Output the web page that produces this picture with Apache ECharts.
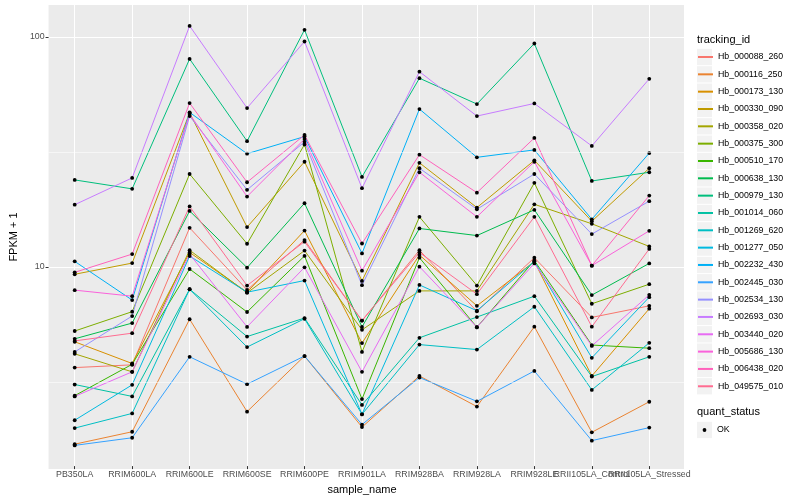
<!DOCTYPE html>
<html><head><meta charset="utf-8">
<script src="https://cdn.jsdelivr.net/npm/echarts@6.0.0/dist/echarts.min.js"></script>
<style>html,body{margin:0;padding:0;background:#fff}#c{width:800px;height:500px}</style>
</head><body><div id="c"></div>
<script>
const categories = ['PB350LA','RRIM600LA','RRIM600LE','RRIM600SE','RRIM600PE','RRIM901LA','RRIM928BA','RRIM928LA','RRIM928LE','RRII105LA_Control','RRII105LA_Stressed'];

const Hb_000088_260 = [3.57, 3.67, 14.6, 7.81, 12.9, 5.73, 11.65, 6.29, 10.8, 5.92, 6.65];
const Hb_000116_250 = [1.65, 1.87, 5.81, 2.29, 4.01, 1.96, 3.28, 2.41, 5.39, 1.86, 2.53];
const Hb_000173_130 = [4.63, 3.72, 11.39, 7.63, 14.2, 4.57, 11.1, 6.65, 10.4, 3.28, 6.46];
const Hb_000330_090 = [9.14, 10.23, 46.5, 14.7, 28.4, 8.55, 28.1, 17.9, 28.8, 15.6, 26.6];
const Hb_000358_020 = [4.10, 3.42, 11.65, 7.58, 11.6, 5.22, 7.73, 7.73, 18.5, 15.2, 12.1];
const Hb_000375_300 = [5.16, 6.27, 25.1, 12.43, 33.8, 4.18, 16.3, 8.16, 22.96, 6.79, 8.27];
const Hb_000510_170 = [2.69, 3.69, 9.64, 6.25, 11.0, 2.60, 10.8, 5.36, 10.5, 4.48, 4.34];
const Hb_000638_130 = [4.77, 5.59, 17.3, 9.77, 18.7, 5.38, 14.5, 13.5, 17.5, 7.41, 10.2];
const Hb_000979_130 = [23.65, 21.61, 80.0, 34.96, 107.3, 24.38, 65.9, 50.8, 93.5, 23.4, 25.55];
const Hb_001014_060 = [3.01, 2.67, 7.86, 4.88, 5.88, 2.45, 4.82, 5.94, 7.33, 3.26, 3.98];
const Hb_001269_620 = [1.94, 2.25, 7.86, 4.39, 5.84, 2.23, 4.50, 4.28, 6.59, 2.85, 4.58];
const Hb_001277_050 = [2.10, 3.00, 10.98, 7.63, 8.58, 2.23, 8.21, 6.33, 10.4, 3.94, 7.26];
const Hb_002232_430 = [10.41, 7.05, 46.7, 30.8, 36.6, 11.28, 48.3, 29.7, 32.0, 15.9, 31.0];
const Hb_002445_030 = [1.63, 1.76, 3.98, 3.02, 4.01, 2.01, 3.23, 2.54, 3.45, 1.71, 1.95];
const Hb_002534_130 = [4.18, 6.00, 45.0, 21.4, 34.7, 8.19, 26.6, 17.6, 25.1, 13.7, 19.1];
const Hb_002693_030 = [18.42, 24.13, 111.6, 48.8, 95.4, 21.76, 70.4, 45.0, 51.1, 33.3, 65.5];
const Hb_003440_020 = [2.67, 3.42, 11.2, 5.38, 9.80, 3.42, 9.87, 5.36, 10.2, 4.44, 7.43];
const Hb_005686_130 = [7.79, 7.33, 45.9, 20.0, 35.7, 9.48, 25.55, 16.3, 28.4, 9.97, 14.16];
const Hb_006438_020 = [9.32, 11.2, 51.3, 23.1, 37.2, 12.46, 30.5, 20.8, 36.1, 9.97, 20.2];
const Hb_049575_010 = [4.67, 5.05, 18.1, 8.16, 12.7, 5.73, 11.39, 7.48, 16.3, 5.39, 11.8];

const seriesNames = ['Hb_000088_260','Hb_000116_250','Hb_000173_130','Hb_000330_090','Hb_000358_020','Hb_000375_300','Hb_000510_170','Hb_000638_130','Hb_000979_130','Hb_001014_060','Hb_001269_620','Hb_001277_050','Hb_002232_430','Hb_002445_030','Hb_002534_130','Hb_002693_030','Hb_003440_020','Hb_005686_130','Hb_006438_020','Hb_049575_010'];
const seriesValues = [Hb_000088_260,Hb_000116_250,Hb_000173_130,Hb_000330_090,Hb_000358_020,Hb_000375_300,Hb_000510_170,Hb_000638_130,Hb_000979_130,Hb_001014_060,Hb_001269_620,Hb_001277_050,Hb_002232_430,Hb_002445_030,Hb_002534_130,Hb_002693_030,Hb_003440_020,Hb_005686_130,Hb_006438_020,Hb_049575_010];

const yTickValues = [10, 100];
const yMinorValues = [3.1623, 31.623];
const yRange = [1.323, 137.8];

const palette = ['#F8766D','#EA8331','#D89000','#C09B00','#A3A500','#7CAE00','#39B600','#00BB4E','#00BF7D','#00C1A3','#00BFC4','#00BAE0','#00B0F6','#35A2FF','#9590FF','#C77CFF','#E76BF3','#FA62DB','#FF62BC','#FF6C91'];

const FONT = 'Liberation Sans, Arial, Helvetica, sans-serif';
const chart = echarts.init(document.getElementById('c'), null, {renderer: 'canvas'});

const lineSeries = seriesNames.map((name, i) => ({
  type: 'line', name: name, xAxisIndex: 1, yAxisIndex: 1,
  data: seriesValues[i], symbol: 'none', z: 2,
  lineStyle: {color: palette[i], width: 1},
  itemStyle: {color: palette[i]},
  emphasis: {disabled: true}, silent: true
}));

const points = [];
seriesValues.forEach(vals => vals.forEach((v, j) => points.push([categories[j], v])));

const KEY_H = 17.33;
const keyRects = seriesNames.map((n, i) => ({
  type: 'rect', shape: {x: 697, y: 48.85 + i * KEY_H, width: 15, height: 16.3},
  style: {fill: '#F2F2F2'}, silent: true
}));

chart.setOption({
  animation: false,
  backgroundColor: '#ffffff',
  textStyle: {fontFamily: FONT},
  grid: [
    {left: 40, right: 116, top: 5, bottom: 31, show: true, backgroundColor: '#EBEBEB', borderWidth: 0, containLabel: false},
    {left: 45.97, right: 122, top: 5, bottom: 31, show: false, containLabel: false}
  ],
  xAxis: [
    {type: 'value', gridIndex: 0, min: 0, max: 1, show: false},
    {type: 'category', gridIndex: 1, data: categories, boundaryGap: true, z: 1,
     name: 'sample_name', nameLocation: 'middle', nameGap: 14,
     nameTextStyle: {fontSize: 11, color: '#000', fontFamily: FONT},
     axisLine: {show: false},
     axisTick: {show: true, alignWithLabel: true, length: 3, lineStyle: {color: '#333333', width: 1}},
     axisLabel: {interval: 0, fontSize: 8.8, color: '#4D4D4D', margin: 4, fontFamily: FONT, hideOverlap: false},
     splitLine: {show: true, alignWithLabel: true, lineStyle: {color: '#ffffff', width: 1}}}
  ],
  yAxis: [
    {type: 'log', logBase: 10, gridIndex: 0, min: yRange[0], max: yRange[1], z: 1,
     name: 'FPKM + 1', nameLocation: 'middle', nameGap: 22, nameRotate: 90,
     nameTextStyle: {fontSize: 11, color: '#000', fontFamily: FONT},
     axisLine: {show: false},
     axisTick: {show: true, length: 3, customValues: yTickValues, lineStyle: {color: '#333333', width: 1}},
     axisLabel: {fontSize: 8.8, color: '#4D4D4D', margin: 4, customValues: yTickValues, fontFamily: FONT},
     splitLine: {show: true, lineStyle: {color: '#ffffff', width: 1}},
     minorTick: {show: false}, minorSplitLine: {show: false}},
    {type: 'log', logBase: 10, gridIndex: 1, min: yRange[0], max: yRange[1], show: false,
     splitLine: {show: false}}
  ],
  legend: {
    data: seriesNames, orient: 'vertical', left: 697, top: 50.07, padding: 0, itemGap: KEY_H * 0.2,
    itemWidth: 15, itemHeight: KEY_H, selectedMode: false,
    itemStyle: {opacity: 0},
    textStyle: {fontSize: 8.8, color: '#000', fontFamily: FONT}
  },
  graphic: [
    ...keyRects,
    {type: 'text', left: 697, top: 34, silent: true, style: {text: 'tracking_id', fontSize: 11, fill: '#000', fontFamily: FONT}},
    {type: 'text', left: 697, top: 406.5, silent: true, style: {text: 'quant_status', fontSize: 11, fill: '#000', fontFamily: FONT}},
    {type: 'rect', shape: {x: 697, y: 421.8, width: 15, height: 16.3}, style: {fill: '#F2F2F2'}, silent: true},
    {type: 'circle', shape: {cx: 704.5, cy: 430, r: 1.9}, style: {fill: '#000'}, silent: true},
    {type: 'text', x: 717, y: 430, silent: true, style: {text: 'OK', fontSize: 8.8, fill: '#000', fontFamily: FONT, verticalAlign: 'middle'}}
  ],
  series: [
    {type: 'line', name: '_minor', xAxisIndex: 0, yAxisIndex: 0, data: [], z: 1, silent: true, symbol: 'none',
     markLine: {silent: true, symbol: ['none', 'none'], label: {show: false},
       lineStyle: {color: '#ffffff', width: 0.55, type: 'solid'},
       emphasis: {disabled: true},
       data: yMinorValues.map(v => ({yAxis: v}))}},
    ...lineSeries,
    {type: 'scatter', name: 'OK', xAxisIndex: 1, yAxisIndex: 1, data: points, z: 3,
     symbol: 'circle', symbolSize: 3.8, itemStyle: {color: '#000', opacity: 1}, silent: true}
  ]
});
</script>
</body></html>
